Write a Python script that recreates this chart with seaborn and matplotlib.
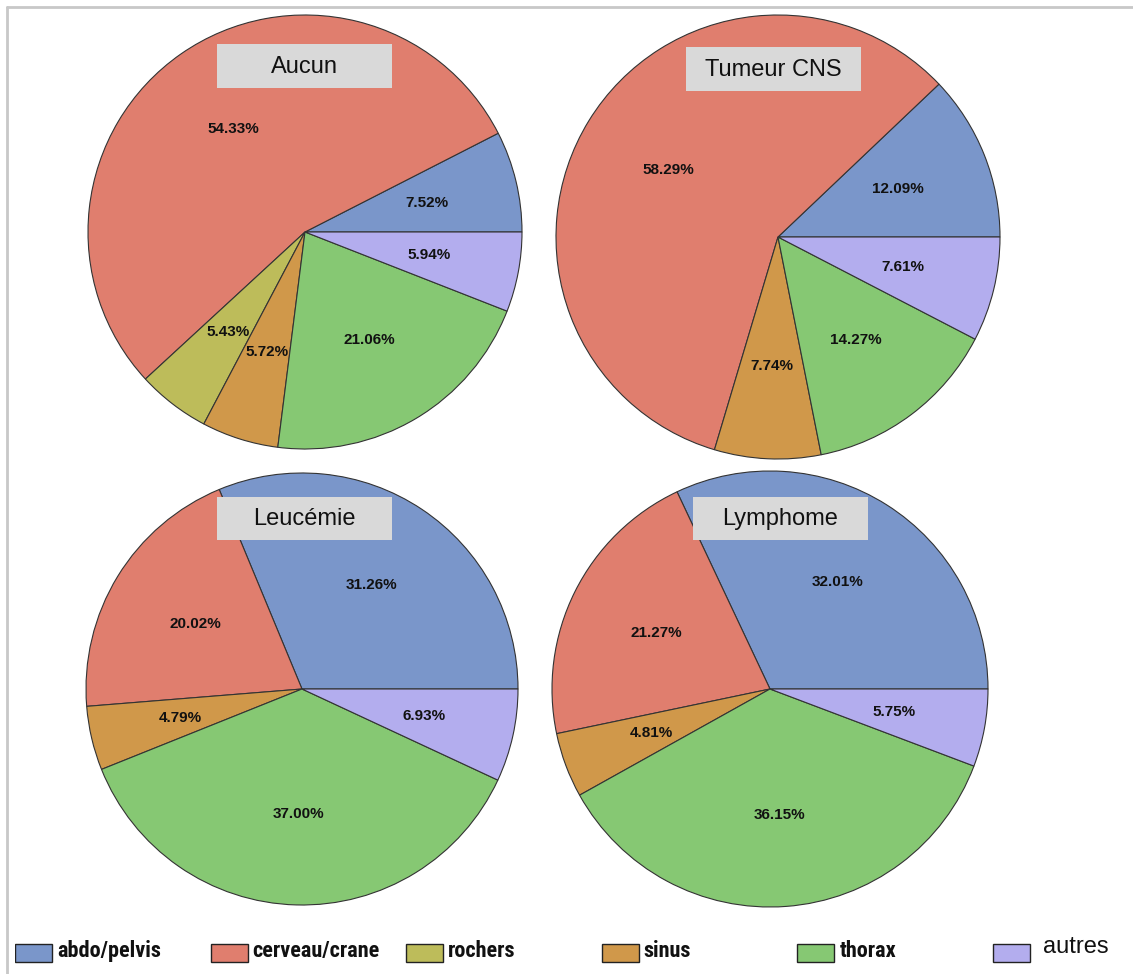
import numpy as np
import pandas as pd
import seaborn as sns
import matplotlib.pyplot as plt
from matplotlib import font_manager
from matplotlib.patches import Rectangle
from matplotlib.lines import Line2D

sns.set_theme(style="white")

categories = ["abdo/pelvis", "cerveau/crane", "rochers", "sinus", "thorax", "autres"]
colors = ["#7A96CA", "#E07E6E", "#BDBC5A", "#D0984A", "#86C873", "#B3ADEE"]

groups = ["Aucun", "Tumeur CNS", "Leucémie", "Lymphome"]
aucun = [7.52, 54.33, 5.43, 5.72, 21.06, 5.94]
tumeur_cns = [12.09, 58.29, 0, 7.74, 14.27, 7.61]
leucemie = [31.26, 20.02, 0, 4.79, 37.00, 6.93]
lymphome = [32.01, 21.27, 0, 4.81, 36.15, 5.75]

df = pd.DataFrame({"categorie": categories, "Aucun": aucun, "Tumeur CNS": tumeur_cns,
                   "Leucémie": leucemie, "Lymphome": lymphome})

W, H = 1133, 974
fig = plt.figure(figsize=(W / 100, H / 100), dpi=100)

names = {f.name for f in font_manager.fontManager.ttflist}
narrow = "Liberation Sans"
for cand in ["Liberation Sans Narrow", "Arial Narrow", "Roboto Condensed", "Archivo Narrow",
             "PT Sans Narrow", "Open Sans Condensed", "Barlow Condensed"]:
    if cand in names:
        narrow = cand
        break
plt.rcParams["font.family"] = ["Liberation Sans", "DejaVu Sans"]

# pie centre (px), radius (px), title box centre (px), bottom clip (px)
layout = {
    "Aucun": ((305, 232), 217, (304, 66), None),
    "Tumeur CNS": ((778, 237), 222, (773, 69), None),
    "Leucémie": ((302, 689), 216, (304, 518), 903),
    "Lymphome": ((770, 689), 218, (780, 518), 903),
}

for g in groups:
    (cx, cy), r, (bx, by), clip = layout[g]
    bottom_px = clip if clip is not None else cy + r + 2
    ax = fig.add_axes([(cx - r - 2) / W, 1 - bottom_px / H,
                       (2 * r + 4) / W, (bottom_px - (cy - r - 2)) / H])
    vals = df[g].values
    keep = vals > 0
    ax.pie(vals[keep], colors=np.array(colors)[keep], startangle=0, counterclock=True,
           autopct="%.2f%%", pctdistance=0.58,
           wedgeprops=dict(edgecolor="#333333", linewidth=0.8),
           textprops=dict(fontsize=11, fontweight="bold", color="#111111"))
    ax.set_xlim(-(r + 2) / r, (r + 2) / r)
    ax.set_ylim(-(bottom_px - cy) / r, (r + 2) / r)
    ax.set_aspect("auto")
    ax.axis("off")

    bw, bh = 175, 43
    fig.patches.append(Rectangle(((bx - bw / 2) / W, 1 - (by + bh / 2) / H), bw / W, bh / H,
                                 transform=fig.transFigure, facecolor="#D9D9D9",
                                 edgecolor="none", zorder=5))
    fig.text(bx / W, 1 - (by + 1) / H, g, ha="center", va="center", fontsize=17,
             color="#111111", zorder=6)

# legend row
lax = fig.add_axes([15 / W, 1 - 974 / H, 1173.6 / W, 60 / H])
lax.set_xlim(0, 6)
lax.set_ylim(0, 60)
lax.axis("off")
for i, (c, col) in enumerate(zip(categories, colors)):
    lax.add_patch(Rectangle((i, 12), 37 / 195.6, 18, facecolor=col,
                            edgecolor="#222222", linewidth=1.0))
    if c == "autres":
        lax.text(i + 50 / 195.6, 21, c, ha="left", va="baseline", fontsize=17,
                 color="#111111")
    else:
        lax.text(i + 42 / 195.6, 17, c, ha="left", va="baseline", fontsize=16,
                 fontweight="bold", family=narrow, color="#111111")

# light frame
fig.add_artist(Line2D([7 / W, 1], [1 - 7 / H, 1 - 7 / H], transform=fig.transFigure,
                      color="#C8C8C8", linewidth=2))
fig.add_artist(Line2D([7 / W, 7 / W], [0, 1 - 7 / H], transform=fig.transFigure,
                      color="#C8C8C8", linewidth=2))

fig.savefig("out.png", dpi=100)
